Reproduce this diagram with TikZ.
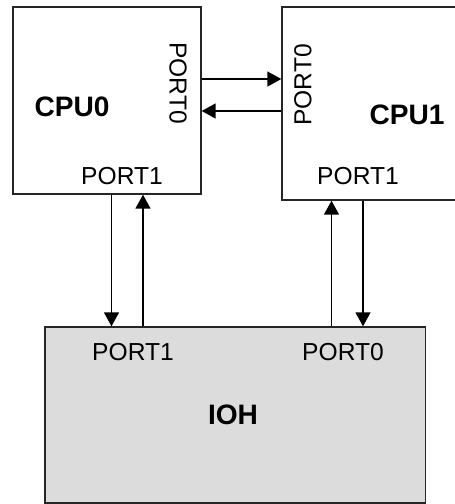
\documentclass[tikz,border=0pt]{standalone}
\usepackage{fontspec}
\setmainfont{Liberation Sans}
\usetikzlibrary{arrows.meta, positioning}

\definecolor{iohgray}{RGB}{220,220,220}

\begin{document}
\begin{tikzpicture}[
  x=0.02cm, y=-0.02cm,
  every node/.style={font=\fontsize{14}{16}\selectfont},
  box/.style={draw=black!85, line width=0.8pt, inner sep=0pt},
  chip/.style={font=\fontsize{16}{18}\selectfont\bfseries},
  port/.style={inner sep=1pt},
  arrow/.style={-{Triangle[length=0.28cm, width=0.3cm]}, line width=0.8pt, draw=black}
]
\useasboundingbox (0,0) rectangle (454,504);

% === CPU BOXES ===
\node[box, minimum width=3.76cm, minimum height=3.74cm] (cpu0) at (107,100.5) {};
\node[box, minimum width=3.56cm, minimum height=3.86cm] (cpu1) at (371,103.5) {};

\node[chip] (cpu0name) at (72,107) {CPU0};
\node[port, rotate=-90] (cpu0p0) at (178,83) {PORT0};
\node[port] (cpu0p1) at (122,176) {PORT1};

\node[chip] (cpu1name) at (407,115) {CPU1};
\node[port, rotate=90] (cpu1p0) at (303,85) {PORT0};
\node[port] (cpu1p1) at (358,176) {PORT1};

% === IOH ===
\node[box, fill=iohgray, minimum width=7.61cm, minimum height=3.52cm] (ioh) at (235.25,415) {};
\node[port] (iohp1) at (133,352) {PORT1};
\node[port] (iohp0) at (343,352) {PORT0};
\node[chip] (iohname) at (233,415) {IOH};

% === LINKS ===
% CPU0 <-> CPU1 (PORT0)
\draw[arrow] ([yshift=0.43cm]cpu0.east) -- ([yshift=0.43cm]cpu0.east -| cpu1.west);
\draw[arrow] ([yshift=-0.21cm]cpu0.east -| cpu1.west) -- ([yshift=-0.21cm]cpu0.east);

% CPU0 <-> IOH (PORT1)
\draw[arrow] ([xshift=0.09cm]cpu0.south) -- ([xshift=0.09cm]cpu0.south |- ioh.north);
\draw[arrow] ([xshift=0.72cm]cpu0.south |- ioh.north) -- ([xshift=0.72cm]cpu0.south);

% CPU1 <-> IOH (PORT0)
\draw[arrow] ([xshift=-0.79cm]cpu1.south |- ioh.north) -- ([xshift=-0.79cm]cpu1.south);
\draw[arrow] ([xshift=-0.16cm]cpu1.south) -- ([xshift=-0.16cm]cpu1.south |- ioh.north);

\end{tikzpicture}
\end{document}
